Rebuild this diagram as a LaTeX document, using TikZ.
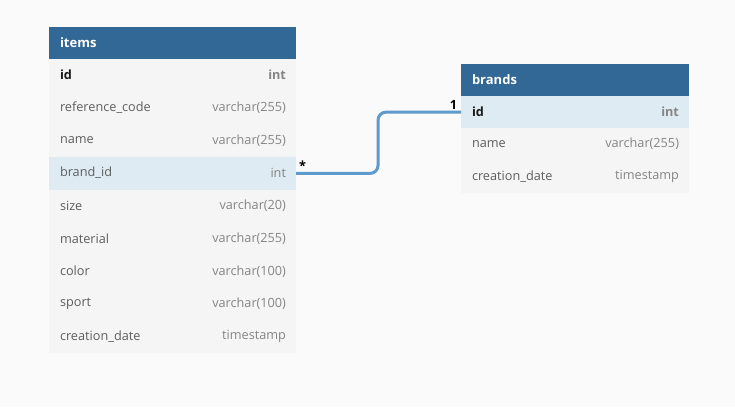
\documentclass[tikz,border=0pt]{standalone}
\usepackage{fontspec}
\setmainfont{Open Sans}
\definecolor{pagebg}{HTML}{FAFAFA}
\definecolor{rowbg}{HTML}{F5F5F5}
\definecolor{hdr}{HTML}{316895}
\definecolor{hil}{HTML}{DEEBF3}
\definecolor{conncol}{HTML}{5E9ACC}
\definecolor{fieldcol}{HTML}{5E5E5E}
\definecolor{typecol}{HTML}{858585}
\begin{document}
\begin{tikzpicture}[x=1pt,y=-1pt,
  every node/.style={inner sep=0pt, outer sep=0pt, font=\fontsize{12.7}{15}\selectfont},
  hdrbox/.style={fill=hdr, draw=none, minimum height=32pt},
  rowbox/.style={fill=rowbg, draw=none},
  hibox/.style={fill=hil, draw=none},
  title/.style={anchor=west, text=white, font=\fontsize{13}{15}\selectfont\bfseries},
  fld/.style={anchor=west, text=fieldcol},
  typ/.style={anchor=east, text=typecol},
  keyfld/.style={anchor=west, text=black!90, font=\fontsize{12.7}{15}\selectfont\bfseries},
  keytyp/.style={anchor=east, text=typecol, font=\fontsize{12.7}{15}\selectfont\bfseries},
  conn/.style={draw=conncol, line width=3pt, rounded corners=8pt},
  card/.style={text=black, font=\fontsize{12.7}{15}\selectfont\bfseries}
]
\path[fill=pagebg] (0,0) rectangle (735,407);
\useasboundingbox (0,0) rectangle (735,407);

% items table
\node[hdrbox, minimum width=247pt] (ih) at (172.5,43) {};
\node[title] (iht) at (60,42.5) {items};
\foreach \i/\c in {0/rowbg,1/rowbg,2/rowbg,3/hil,4/rowbg,5/rowbg,6/rowbg,7/rowbg,8/rowbg}{
  \node[fill=\c, minimum width=247pt, minimum height=32.8pt] (ir\i) at (172.5,{59+32.7*(\i+0.5)}) {};
}
\node[keyfld] (if0) at (60,75) {id};
\node[keytyp] (it0) at (286,75) {int};
\node[fld] (if1) at (60,107.7) {reference\_code};
\node[typ] (it1) at (286,107.7) {varchar(255)};
\node[fld] (if2) at (60,140.4) {name};
\node[typ] (it2) at (286,140.4) {varchar(255)};
\node[fld] (if3) at (60,173.1) {brand\_id};
\node[typ] (it3) at (286,173.1) {int};
\node[fld] (if4) at (60,205.8) {size};
\node[typ] (it4) at (286,205.8) {varchar(20)};
\node[fld] (if5) at (60,238.5) {material};
\node[typ] (it5) at (286,238.5) {varchar(255)};
\node[fld] (if6) at (60,271.2) {color};
\node[typ] (it6) at (286,271.2) {varchar(100)};
\node[fld] (if7) at (60,303.9) {sport};
\node[typ] (it7) at (286,303.9) {varchar(100)};
\node[fld] (if8) at (60,336.6) {creation\_date};
\node[typ] (it8) at (286,336.6) {timestamp};

% brands table
\node[hdrbox, minimum width=228pt, minimum height=32.5pt] (bh) at (575,79.75) {};
\node[title] (bht) at (472,79.3) {brands};
\node[hibox, minimum width=228pt, minimum height=32.4pt] (br0) at (575,112.15) {};
\node[rowbox, minimum width=228pt, minimum height=32.4pt] (br1) at (575,144.45) {};
\node[rowbox, minimum width=228pt, minimum height=32.4pt] (br2) at (575,176.75) {};
\node[keyfld] (bf0) at (472,111.8) {id};
\node[keytyp] (bt0) at (679,111.8) {int};
\node[fld] (bf1) at (472,144.1) {name};
\node[typ] (bt1) at (679,144.1) {varchar(255)};
\node[fld] (bf2) at (472,176.4) {creation\_date};
\node[typ] (bt2) at (679,176.4) {timestamp};

% connector
\draw[conn] (ir3.east) -- ++(82,0) |- (br0.west);
\node[card] (cm) at (302.5,166) {*};
\node[card] (c1) at (453.5,104.5) {1};
\end{tikzpicture}
\end{document}
